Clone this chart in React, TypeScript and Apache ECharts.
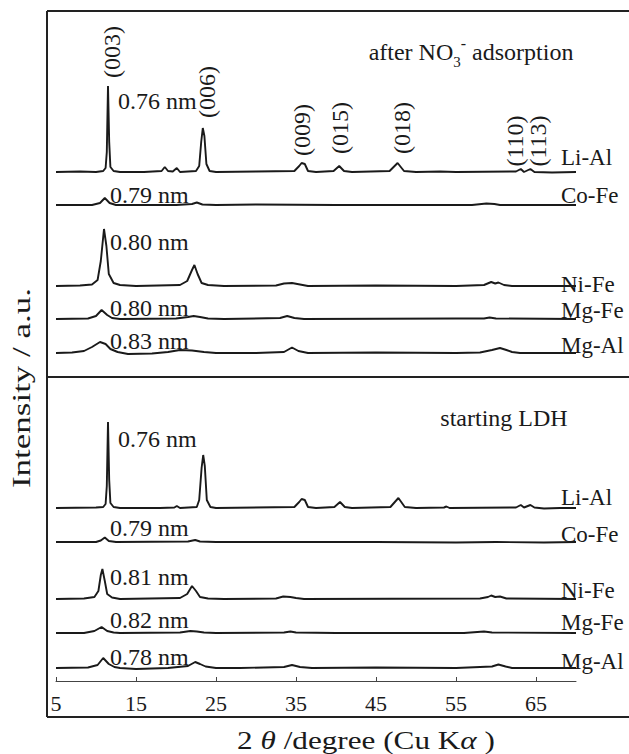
import React, { useEffect, useRef } from "react";
import * as echarts from "echarts";

// ---- data (2θ in degrees, intensity in arbitrary units) ----
const X_TICKS = [5, 15, 25, 35, 45, 55, 65];
const SAMPLES = ["Li-Al", "Co-Fe", "Ni-Fe", "Mg-Fe", "Mg-Al"];
const AFTER_SPACING = ["0.76 nm", "0.79 nm", "0.80 nm", "0.80 nm", "0.83 nm"];
const START_SPACING = ["0.76 nm", "0.79 nm", "0.81 nm", "0.82 nm", "0.78 nm"];
const HKL = ["(003)", "(006)", "(009)", "(015)", "(018)", "(110)", "(113)"];

const afterLiAl = [
  [5, 0], [8, 0.5], [10, 0], [10.9, 1], [11.2, 4], [11.35, 20], [11.5, 86], [11.65, 30], [11.8, 5], [12.2, 1], [13, 0],
  [16, 0], [18.2, 1], [18.6, 5], [19, 1], [19.6, 0.5], [20.1, 4], [20.5, 0], [22.5, 1], [22.9, 6], [23.15, 30],
  [23.35, 44], [23.55, 36], [23.8, 8], [24.2, 1], [25, 0], [30, 0.5], [34.8, 1], [35.4, 6], [35.7, 9], [36.1, 8],
  [36.5, 1], [37.5, 0], [39.7, 1], [40.4, 6], [41, 1], [42, 0], [46.7, 1], [47.7, 9], [48.5, 1], [50, 0], [53, 0.5],
  [55, 0], [62.5, 0.5], [63.1, 3], [63.5, 0], [64.3, 3], [64.8, 0], [67, -0.5], [70, 0],
];
const afterCoFe = [
  [5, 0], [9.5, 0], [10.5, 2], [11.1, 7], [11.7, 2], [12.5, 0], [20, 0], [22, 1], [22.6, 2.5], [23.3, 0.5], [25, 0],
  [30, 0.5], [40, 0], [57, 0], [58.8, 1.5], [59.8, 1], [60.5, 0], [70, 0],
];
const afterNiFe = [
  [5, 0], [8, 0.5], [9.5, 1.5], [10.2, 6], [10.6, 25], [11.0, 57], [11.3, 40], [11.6, 12], [12.2, 3], [13, 1], [15, 0],
  [20.5, 1], [21.4, 5], [22.0, 16], [22.3, 21], [22.7, 12], [23.2, 3], [24, 1], [26, 0], [32.5, 0.5], [33.5, 2.5],
  [34.5, 3], [35.5, 1.5], [36.5, 0], [45, 0.5], [55, 0], [58.5, 1], [59.4, 4], [59.9, 2.5], [60.3, 3.5], [61, 1],
  [62, 0], [70, 0],
];
const afterMgFe = [
  [5, 0], [9, 0.5], [10, 3], [10.7, 9], [11.4, 4], [12, 1], [13, 0], [20, 0.5], [21.5, 2], [22.2, 3], [23, 2],
  [24, 0.5], [26, 0], [33, 1], [33.9, 3], [34.8, 1], [36, 0], [55, 0.5], [58.5, 0.5], [59.2, 1.5], [60, 0.5], [70, 0],
];
const afterMgAl = [
  [5, 0], [7, 0.5], [8.5, 2], [9.5, 6], [10.5, 11], [11.2, 9], [11.8, 4], [12.7, 1], [14, -1], [17, -0.5], [19, 1],
  [20.5, 3], [22, 2.5], [23.5, 1], [25, 0], [30, 0], [33.5, 1], [34.5, 5.5], [35.3, 2], [36.5, 0], [45, 0.5], [55, 0],
  [58, 0.5], [59.5, 3], [60.5, 5], [61.3, 3], [62, 1], [63, 0], [70, 0],
];

const startLiAl = [
  [5, 0], [10, 0.5], [10.9, 1], [11.2, 4], [11.35, 22], [11.5, 86], [11.65, 28], [11.8, 5], [12.2, 1], [13, 0],
  [18, 0], [19.8, 0.5], [20.1, 2], [20.5, 0], [22.6, 1], [22.9, 8], [23.2, 40], [23.4, 53], [23.6, 42], [23.85, 8],
  [24.3, 1], [25, 0], [34.8, 1], [35.4, 6], [35.7, 9], [36.1, 8], [36.5, 1], [37.5, 0], [39.8, 1], [40.5, 6],
  [41.1, 1], [42, 0], [46.8, 1], [47.8, 10], [48.6, 1], [50, 0], [53.5, 0.5], [53.8, 1.5], [54.2, 0], [62.5, 0.5],
  [63.1, 3], [63.5, 0.5], [64.3, 3], [64.8, 0.5], [66, -0.5], [68, 0], [70, 0],
];
const startCoFe = [
  [5, 0], [10, 0], [10.6, 1.5], [11.1, 4.5], [11.6, 1], [12.5, 0], [21.5, 0.5], [22.4, 2], [23, 0.5], [25, 0],
  [45, 0], [55, -0.5], [60, 0], [66, -0.5], [70, 0],
];
const startNiFe = [
  [5, 0], [8.5, 0.5], [9.8, 2], [10.3, 8], [10.6, 24], [10.8, 30], [11.1, 18], [11.4, 5], [12, 1.5], [13, 0],
  [20.5, 1], [21.4, 5], [22.0, 13], [22.5, 8], [23, 2], [24, 0.5], [26, 0], [32.5, 0.5], [33.4, 2.5], [34.3, 2],
  [35, 1], [36, 0], [58, 0.5], [59, 2], [59.4, 3.5], [59.9, 2], [60.5, 2.5], [61.3, 0.5], [70, 0],
];
const startMgFe = [
  [5, 0], [8.5, 0], [9.8, 2], [10.7, 6], [11.4, 2], [12.2, 0.5], [13, 0], [20.5, 0.5], [21.8, 2], [22.6, 1.5],
  [23.5, 0.5], [25, 0], [33.5, 0.5], [34.3, 1.5], [35, 0.5], [40, 0], [56, 0], [58.5, 1.5], [59.5, 0.5], [70, 0],
];
const startMgAl = [
  [5, 0], [9, 0.5], [10.2, 3], [10.9, 10], [11.6, 4], [12.3, 1], [13, 0], [15, -1], [19, 0], [21.5, 2], [22.4, 6],
  [23.0, 4], [23.7, 1.5], [25, 0], [28, 0], [33.5, 1], [34.5, 3], [35.5, 1], [37, 0], [45, 0.5], [55, 0],
  [59.5, 1.5], [60.3, 3.5], [61.2, 1.5], [62, 0], [70, 0],
];

const AFTER_PATTERNS = [afterLiAl, afterCoFe, afterNiFe, afterMgFe, afterMgAl];
const START_PATTERNS = [startLiAl, startCoFe, startNiFe, startMgFe, startMgAl];

// ---- layout ----
const W = 629;
const H = 754;
const AFTER_OFFSETS = [509, 476, 395, 362, 328];
const START_OFFSETS = [173, 139, 82, 48, 13];
const FONT = "'Liberation Serif', 'Times New Roman', serif";
const INK = "#1a1a1a";

const AFTER_NAME_Y = [157, 195, 284, 310, 345];
const START_NAME_Y = [497, 534, 590, 622, 661];
const AFTER_SPACING_Y = [101, 195, 242, 308, 341];
const AFTER_SPACING_X = [118, 110, 110, 110, 110];
const START_SPACING_Y = [439, 528, 577, 620, 657];
const START_SPACING_X = [118, 110, 110, 110, 110];
const HKL_POS = [
  [112, 52], [207, 92], [302, 130], [340, 128], [402, 128], [515, 141], [538, 141],
];

function txt(text: string, x: number, y: number, extra: any = {}) {
  return {
    type: "text",
    x,
    y,
    silent: true,
    ...extra,
    style: {
      text,
      fill: INK,
      font: `24px ${FONT}`,
      textAlign: "left",
      textVerticalAlign: "middle",
      ...(extra.style || {}),
    },
  };
}

export default function App() {
  const ref = useRef<HTMLDivElement>(null);
  useEffect(() => {
    if (!ref.current) return;
    const chart = echarts.init(ref.current, undefined, { renderer: "svg" });

    const series: any[] = [];
    AFTER_PATTERNS.forEach((p, i) => {
      series.push({
        type: "line",
        name: "after " + SAMPLES[i],
        data: p.map(([x, y]) => [x, y + AFTER_OFFSETS[i]]),
        showSymbol: false,
        lineStyle: { color: INK, width: 1.9 },
        silent: true,
      });
    });
    START_PATTERNS.forEach((p, i) => {
      series.push({
        type: "line",
        name: "starting " + SAMPLES[i],
        data: p.map(([x, y]) => [x, y + START_OFFSETS[i]]),
        showSymbol: false,
        lineStyle: { color: INK, width: 1.9 },
        silent: true,
      });
    });

    const graphics: any[] = [];
    // frame
    const frameLine = { stroke: "#222", lineWidth: 2 };
    graphics.push({ type: "line", shape: { x1: 47, y1: 11, x2: W, y2: 11 }, style: frameLine, silent: true });
    graphics.push({ type: "line", shape: { x1: 47, y1: 11, x2: 47, y2: 717 }, style: frameLine, silent: true });
    graphics.push({ type: "line", shape: { x1: 47, y1: 717, x2: W, y2: 717 }, style: frameLine, silent: true });
    graphics.push({ type: "line", shape: { x1: 47, y1: 377, x2: W, y2: 377 }, style: frameLine, silent: true });

    const nameStyle = { font: `23px ${FONT}` };
    SAMPLES.forEach((s, i) => {
      graphics.push(txt(s, 561, AFTER_NAME_Y[i], { style: nameStyle }));
      graphics.push(txt(s, 561, START_NAME_Y[i], { style: nameStyle }));
      graphics.push(txt(AFTER_SPACING[i], AFTER_SPACING_X[i], AFTER_SPACING_Y[i]));
      graphics.push(txt(START_SPACING[i], START_SPACING_X[i], START_SPACING_Y[i]));
    });
    HKL.forEach((h, i) => {
      graphics.push(
        txt(h, HKL_POS[i][0], HKL_POS[i][1], {
          rotation: Math.PI / 2,
          style: { textAlign: "center" },
        })
      );
    });

    graphics.push({
      type: "text",
      x: 471,
      y: 52,
      silent: true,
      style: {
        text: "{m|after NO}{sub|3}{sup|-}{m| adsorption}",
        fill: INK,
        font: `24px ${FONT}`,
        textAlign: "center",
        textVerticalAlign: "middle",
        rich: {
          m: { fontSize: 24, fontFamily: FONT, lineHeight: 34, verticalAlign: "middle", fill: INK },
          sub: { fontSize: 15, fontFamily: FONT, lineHeight: 16, verticalAlign: "bottom", fill: INK },
          sup: { fontSize: 16, fontFamily: FONT, lineHeight: 16, verticalAlign: "top", fill: INK },
        },
      },
    });
    graphics.push(txt("starting LDH", 504, 418, { style: { textAlign: "center" } }));

    // axis titles
    graphics.push({
      type: "text",
      x: 366,
      y: 740,
      scaleX: 1.2,
      silent: true,
      style: {
        text: "{n|2 }{i|θ}{n| /degree (Cu K}{i|α}{n| )}",
        fill: INK,
        font: `26px ${FONT}`,
        textAlign: "center",
        textVerticalAlign: "middle",
        rich: {
          n: { fontSize: 26, fontFamily: FONT, fill: INK },
          i: { fontSize: 26, fontFamily: FONT, fontStyle: "italic", fill: INK },
        },
      },
    });
    graphics.push({
      type: "text",
      x: 22,
      y: 388,
      rotation: Math.PI / 2,
      scaleX: 1.4,
      silent: true,
      style: {
        text: "Intensity / a.u.",
        fill: INK,
        font: `25px ${FONT}`,
        textAlign: "center",
        textVerticalAlign: "middle",
      },
    });

    chart.setOption({
      animation: false,
      backgroundColor: "#fff",
      grid: { left: 56, top: 11, width: 520, height: 670, containLabel: false },
      xAxis: {
        type: "value",
        min: 5,
        max: 70,
        axisLine: { show: true, lineStyle: { color: "#444", width: 1 } },
        axisTick: { show: true, inside: true, length: 4, customValues: X_TICKS, lineStyle: { color: "#444" } },
        axisLabel: {
          show: true,
          customValues: X_TICKS,
          fontFamily: FONT,
          fontSize: 22,
          color: INK,
          margin: 11,
        },
        splitLine: { show: false },
      },
      yAxis: { type: "value", min: 0, max: 670, show: false },
      series,
      graphic: graphics,
    });
    return () => chart.dispose();
  }, []);
  return <div ref={ref} style={{ position: "fixed", left: 0, top: 0, width: W, height: H }} />;
}
